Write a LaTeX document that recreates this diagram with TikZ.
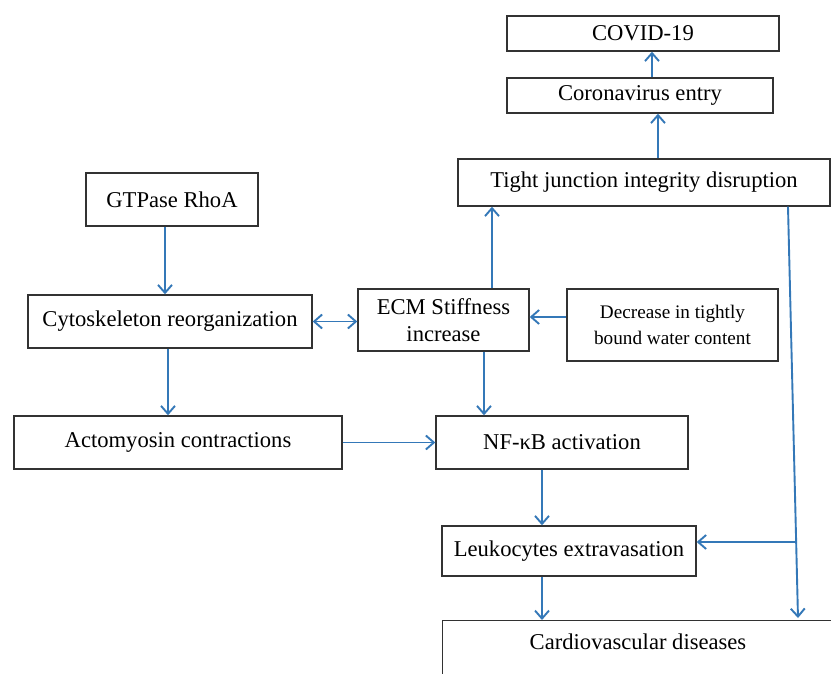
\documentclass[tikz,border=0pt]{standalone}
\usepackage{fontspec}
\setmainfont{Liberation Serif}
\usetikzlibrary{arrows.meta}
\definecolor{arrowblue}{RGB}{52,120,184}
\definecolor{boxgray}{RGB}{50,50,50}
\begin{document}
\begin{tikzpicture}[x=1pt,y=-1pt,
  box/.style={draw=boxgray, line width=1.4pt, inner sep=0pt, align=center, font=\fontsize{22.6}{27}\selectfont},
  smallbox/.style={box, font=\fontsize{19.2}{26}\selectfont},
  plain/.style={inner sep=0pt, font=\fontsize{22.6}{27}\selectfont},
  arr/.style={draw=arrowblue, line width=1.9pt, -{Straight Barb[length=8pt,width=14pt]}},
  dblarr/.style={draw=arrowblue, line width=1.9pt, {Straight Barb[length=8pt,width=14pt]}-{Straight Barb[length=8pt,width=14pt]}}]
\useasboundingbox (0,0) rectangle (831,673);
\clip (0,0) rectangle (831,673);
\fill[white] (0,0) rectangle (831,673);

% boxes
\node[box, minimum width=272pt, minimum height=35pt] (covid) at (643,33.5) {COVID-19};
\node[box, minimum width=266pt, minimum height=35pt] (corona) at (640,95.5) {Coronavirus entry};
\node[box, minimum width=372pt, minimum height=47pt] (tight) at (644,182.5) {Tight junction integrity disruption};
\node[box, minimum width=172pt, minimum height=53pt] (gtpase) at (172,199.5) {GTPase RhoA};
\node[box, minimum width=284pt, minimum height=53pt] (cyto) at (170,321.5) {Cytoskeleton reorganization};
\node[box, minimum width=171pt, minimum height=62pt] (ecm) at (443.5,320) {ECM Stiffness\\increase};
\node[smallbox, minimum width=211pt, minimum height=72pt] (decr) at (672.5,325) {Decrease in tightly\\bound water content};
\node[box, minimum width=328pt, minimum height=53pt] (acto) at (178,442.5) {Actomyosin contractions};
\node[box, minimum width=252pt, minimum height=53pt] (nfkb) at (562,442.5) {NF-κB activation};
\node[box, minimum width=254pt, minimum height=50pt] (leuko) at (569,551) {Leukocytes extravasation};
\node[box, anchor=north west, minimum width=430pt, minimum height=100pt] (cardio) at (442,620) {};
\node[plain] (cardiotext) at (638,642) {Cardiovascular diseases};

% connectors
\draw[arr] ([xshift=12pt]corona.north) -- ([xshift=9pt]covid.south);
\draw[arr] ([xshift=14pt]tight.north) -- ([xshift=18pt]corona.south);
\draw[arr] ([xshift=48.5pt]ecm.north) -- ([xshift=-152pt]tight.south);
\draw[arr] ([xshift=-7pt]gtpase.south) -- ([xshift=-5pt]cyto.north);
\draw[dblarr] (cyto.east) -- (cyto.east -| ecm.west);
\coordinate (d1) at ([yshift=8pt]decr.west);
\draw[arr] (d1) -- (d1 -| ecm.east);
\draw[arr] ([xshift=40.5pt]ecm.south) -- ([xshift=-78pt]nfkb.north);
\draw[arr] ([xshift=-2pt]cyto.south) -- ([xshift=-10pt]acto.north);
\draw[arr] (acto.east) -- (acto.east -| nfkb.west);
\draw[arr] ([xshift=-20pt]nfkb.south) -- ([xshift=-27pt]leuko.north);
\coordinate (lk) at ([xshift=-27pt]leuko.south);
\draw[arr] (lk) -- (lk |- cardio.north);
\coordinate (tj) at ([xshift=144pt]tight.south);
\coordinate (cv) at (798,618);
\draw[arr] (tj) -- (cv);
\coordinate (br) at (797,542);
\draw[arr] (br) -- (br -| leuko.east);
\end{tikzpicture}
\end{document}
